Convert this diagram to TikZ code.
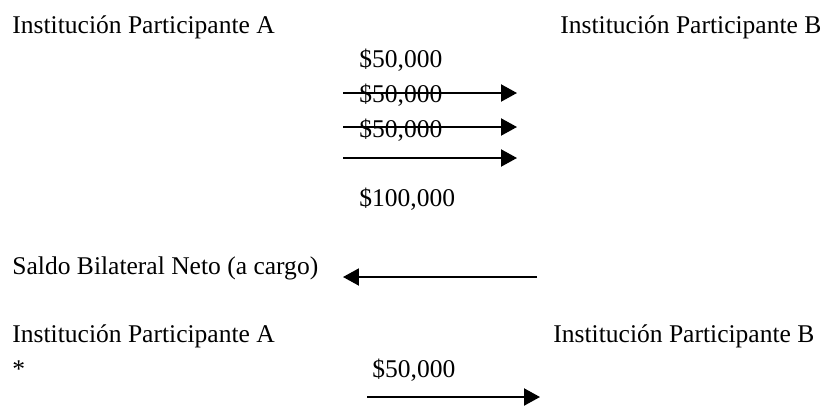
\documentclass[tikz,border=0pt]{standalone}
\usepackage{fontspec}
\setmainfont{Liberation Serif}
\usetikzlibrary{arrows.meta}
\tikzset{
  label/.style={anchor=base west, inner sep=0pt, font=\fontsize{12}{14}\selectfont},
  flow/.style={line width=0.9pt, -{Triangle[length=7.5pt, width=8pt]}}
}
\begin{document}
\begin{tikzpicture}[x=0.47pt,y=-0.47pt]
  \useasboundingbox (0,0) rectangle (825,405);
  % Drawing the gross payments
  \node [label] (instA) at (12,33) {Institución Participante A};%
  \node [label] (instB) at (560,33) {Institución Participante B};%
  \node [label] (pagoa) at (359,67) {\$50,000};%
  \node [label] (pagob) at (359,102) {\$50,000};%
  \node [label] (pagoc) at (359,137) {\$50,000};%
  \node [label] (total) at (359,206) {\$100,000};%
  \coordinate (fa0) at (343,93); \coordinate (fa1) at (517,93);%
  \coordinate (fb0) at (343,127); \coordinate (fb1) at (517,127);%
  \coordinate (fc0) at (343,158); \coordinate (fc1) at (517,158);%
  \draw [flow] (fa0) -- (fa1);%
  \draw [flow] (fb0) -- (fb1);%
  \draw [flow] (fc0) -- (fc1);%

  % Drawing the net balance
  \node [label] (saldo) at (12,274) {Saldo Bilateral Neto (a cargo)};%
  \coordinate (n0) at (537,277); \coordinate (n1) at (343,277);%
  \draw [flow] (n0) -- (n1);%

  % Drawing the settlement
  \node [label] (instAneto) at (12,342) {Institución Participante A};%
  \node [label] (instBneto) at (553,342) {Institución Participante B};%
  \node [label] (marca) at (12,377) {*};%
  \node [label] (neto) at (372,377) {\$50,000};%
  \coordinate (s0) at (367,397); \coordinate (s1) at (540,397);%
  \draw [flow] (s0) -- (s1);%
\end{tikzpicture}
\end{document}
